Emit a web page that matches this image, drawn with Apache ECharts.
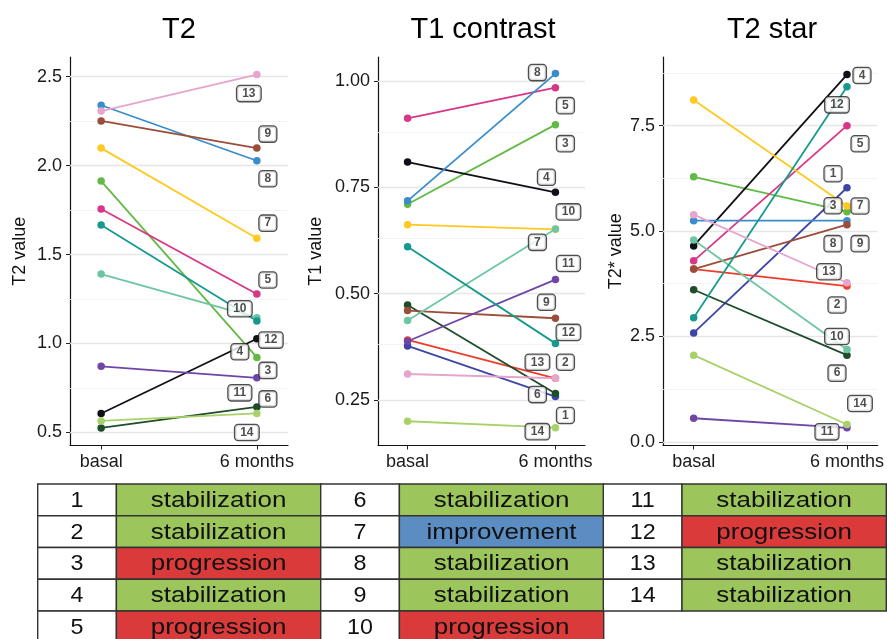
<!DOCTYPE html>
<html>
<head>
<meta charset="utf-8">
<script src="https://cdn.jsdelivr.net/npm/echarts@6/dist/echarts.min.js"></script>
<style>
html,body{margin:0;padding:0;background:#fff;}
#chart{width:887px;height:639px;}
</style>
</head>
<body>
<div id="chart"></div>
<script>
// ---------------- DATA ----------------
const patients = [1,2,3,4,5,6,7,8,9,10,11,12,13,14];
const timepoints = ['basal', '6 months'];

// T2 (patients 1 and 2 not measured)
const t2Basal     = [null, null, 1.913, 0.607, 1.756, 0.526, 2.098, 2.339, 2.251, 1.390, 0.872, 1.666, 2.306, 0.565];
const t2SixMonths = [null, null, 0.922, 1.027, 1.278, 0.644, 1.592, 2.027, 2.098, 1.145, 0.807, 1.126, 2.511, 0.607];

// T1 contrast
const t1Basal     = [0.377, 0.391, 0.710, 0.809, 0.912, 0.473, 0.662, 0.718, 0.460, 0.437, 0.388, 0.610, 0.311, 0.200];
const t1SixMonths = [0.258, 0.301, 0.897, 0.738, 0.984, 0.265, 0.651, 1.017, 0.442, 0.652, 0.533, 0.383, 0.301, 0.185];

// T2 star
const t2sBasal     = [2.584, 4.097, 6.287, 4.648, 4.294, 3.608, 8.107, 5.247, 4.097, 4.790, 0.559, 2.946, 5.389, 2.056];
const t2sSixMonths = [6.027, 3.695, 5.460, 8.713, 7.500, 2.056, 5.594, 5.247, 5.152, 2.190, 0.331, 8.422, 3.774, 0.410];

// tick labels
const t2Ticks  = [0.5, 1.0, 1.5, 2.0, 2.5];
const t1Ticks  = [0.25, 0.50, 0.75, 1.00];
const t2sTicks = [0.0, 2.5, 5.0, 7.5];

// outcome table
const statuses = ['stabilization','stabilization','progression','stabilization','progression',
                  'stabilization','improvement','stabilization','stabilization','progression',
                  'stabilization','progression','stabilization','stabilization'];

// ---------------- STYLE / LAYOUT ----------------
const palette = {
  1:'#3D46A6', 2:'#EE3D2C', 3:'#62BA45', 4:'#101018', 5:'#DA3687', 6:'#1E4D2B', 7:'#FFC91F',
  8:'#3A8DCC', 9:'#9C4D3A', 10:'#6CC6A1', 11:'#6F45A7', 12:'#18998F', 13:'#E5A5CC', 14:'#A8D16A'
};
const statusColor = { stabilization:'#9CC65B', progression:'#DB3A3B', improvement:'#5B8DC3' };
const FONT = '"Liberation Sans", Arial, Helvetica, sans-serif';

// label box nudges (px, relative to 6-month point), mimicking repelled labels
const nudgeT2 = {3:[11,13],4:[-17,13],5:[11,-14],6:[11,-8],7:[11,-15],8:[11,18],9:[11,-14],
                 10:[-17,-9],11:[-17,15],12:[14,19],13:[-8,19],14:[-10,19]};
const nudgeT1 = {1:[10,19],2:[10,-16],3:[10,19],4:[-9,-15],5:[10,18],6:[-18,1],7:[-18,13],
                 8:[-18,-1],9:[-9,-16],10:[13,-17],11:[13,-16],12:[13,-11],13:[-18,-16],14:[-18,4]};
const nudgeT2s = {1:[-14,-14],2:[-10,19],3:[-14,-6],4:[15,1],5:[13,18],6:[-10,18],7:[13,0],
                  8:[-14,23],9:[13,19],10:[-10,-13],11:[-20,4],12:[-10,18],13:[-18,-11],14:[13,-21]};

const panels = [
  {title:'T2', yName:'T2 value', basal:t2Basal, six:t2SixMonths, ticks:t2Ticks, dec:1,
   min:0.427, max:2.61, left:70, width:218, nudge:nudgeT2, titleX:179, nameGap:41},
  {title:'T1 contrast', yName:'T1 value', basal:t1Basal, six:t1SixMonths, ticks:t1Ticks, dec:2,
   min:0.143, max:1.056, left:378, width:207, nudge:nudgeT1, titleX:483, nameGap:53},
  {title:'T2 star', yName:'T2* value', basal:t2sBasal, six:t2sSixMonths, ticks:t2sTicks, dec:1,
   min:-0.088, max:9.13, left:663, width:219, nudge:nudgeT2s, titleX:772, nameGap:38}
];
const gridTop = 57, gridBottomY = 445.5;

// ---------------- BUILD OPTION ----------------
const grids = [], xAxes = [], yAxes = [], series = [], graphics = [];

panels.forEach((p, gi) => {
  grids.push({left:p.left, width:p.width, top:gridTop, height:gridBottomY-gridTop, containLabel:false});
  xAxes.push({
    type:'value', gridIndex:gi, min:-0.2, max:1.2,
    axisLine:{show:true, onZero:false, lineStyle:{color:'#111', width:1.2}},
    axisTick:{show:true, length:4, lineStyle:{color:'#222', width:1}, customValues:[0,1]},
    axisLabel:{show:true, customValues:[0,1], formatter:v => timepoints[Math.round(v)],
               fontFamily:FONT, fontSize:18, color:'#1a1a1a', margin:8},
    splitLine:{show:false}
  });
  yAxes.push({
    type:'value', gridIndex:gi, min:p.min, max:p.max,
    name:p.yName, nameLocation:'middle', nameRotate:90, nameGap:p.nameGap,
    nameTextStyle:{fontFamily:FONT, fontSize:18, color:'#111'},
    axisLine:{show:true, onZero:false, lineStyle:{color:'#111', width:1.2}},
    axisTick:{show:true, length:4, lineStyle:{color:'#222', width:1}, customValues:p.ticks},
    axisLabel:{show:true, customValues:p.ticks, formatter:v => Number(v).toFixed(p.dec),
               fontFamily:FONT, fontSize:18, color:'#1a1a1a', margin:8},
    splitLine:{show:false}
  });

  // grid lines (major + minor) via markLine on a helper series
  const minors = [];
  for (let k = 0; k < p.ticks.length + 1; k++) {
    const step = p.ticks[1] - p.ticks[0];
    const m = p.ticks[0] - step/2 + k*step;
    if (m > p.min && m < p.max) minors.push(m);
  }
  series.push({
    type:'line', xAxisIndex:gi, yAxisIndex:gi, data:[], silent:true, animation:false,
    markLine:{
      silent:true, symbol:['none','none'], label:{show:false}, z:1, animation:false,
      data: p.ticks.map(v => ({yAxis:v, lineStyle:{color:'#e6e6e6', width:1.4, type:'solid'}}))
        .concat(minors.map(v => ({yAxis:v, lineStyle:{color:'#f0f0f0', width:0.8, type:'solid'}})))
    }
  });

  // one line per patient
  patients.forEach((id, i) => {
    if (p.basal[i] == null) return;
    series.push({
      type:'line', name:'P'+id+'-'+gi, xAxisIndex:gi, yAxisIndex:gi, animation:false,
      data:[[0, p.basal[i]], [1, p.six[i]]],
      symbol:'circle', symbolSize:7.5, showSymbol:true, z:2,
      lineStyle:{color:palette[id], width:1.8},
      itemStyle:{color:palette[id]},
      emphasis:{disabled:true}
    });
  });

  // patient number labels at 6-month points
  const labelIds = patients.filter((id,i) => p.basal[i] != null);
  series.push({
    type:'scatter', xAxisIndex:gi, yAxisIndex:gi, animation:false, z:20, silent:true,
    symbol:'circle', symbolSize:1, itemStyle:{color:'rgba(0,0,0,0)'},
    data: labelIds.map(id => ({name:String(id), value:[1, p.six[id-1]]})),
    label:{
      show:true, position:'inside', formatter:'{b}',
      fontFamily:FONT, fontSize:12, fontWeight:'bold', color:'#222',
      backgroundColor:'#fff', borderColor:'#222', borderWidth:1.3, borderRadius:3,
      padding:[2,5,1,5]
    },
    labelLayout: function (params) {
      const id = labelIds[params.dataIndex];
      const n = p.nudge[id] || [0,0];
      return {dx:n[0], dy:n[1]};
    }
  });

  graphics.push({
    type:'text', x:p.titleX, y:30,
    style:{text:p.title, font:'29px ' + FONT, fill:'#000', align:'center', verticalAlign:'middle'}
  });
});

// ---------------- TABLE ----------------
const tableTop = 484, rowH = 31.75;
const groupX = [37.7, 320.7, 603.3];
const numW = 78.7, statW = 204.3;
patients.forEach((id, i) => {
  const g = Math.floor(i / 5), r = i % 5;
  const x0 = groupX[g], y0 = tableTop + r*rowH;
  const st = statuses[i];
  graphics.push({type:'rect', shape:{x:x0, y:y0, width:numW, height:rowH},
    style:{fill:'#fff', stroke:'#333', lineWidth:1.4}});
  graphics.push({type:'rect', shape:{x:x0+numW, y:y0, width:statW, height:rowH},
    style:{fill:statusColor[st], stroke:'#333', lineWidth:1.4}});
  graphics.push({type:'text', x:x0+numW/2, y:y0+rowH/2+1, scaleX:1.06,
    style:{text:String(id), font:'22px ' + FONT, fill:'#111', align:'center', verticalAlign:'middle'}});
  graphics.push({type:'text', x:x0+numW+statW/2, y:y0+rowH/2+1, scaleX:1.18,
    style:{text:st, font:'22px ' + FONT, fill:'#111', align:'center', verticalAlign:'middle'}});
});

const chart = echarts.init(document.getElementById('chart'), null, {renderer:'canvas'});
chart.setOption({
  animation:false,
  backgroundColor:'#fff',
  grid:grids, xAxis:xAxes, yAxis:yAxes, series:series,
  graphic:{elements:graphics}
});
</script>
</body>
</html>
